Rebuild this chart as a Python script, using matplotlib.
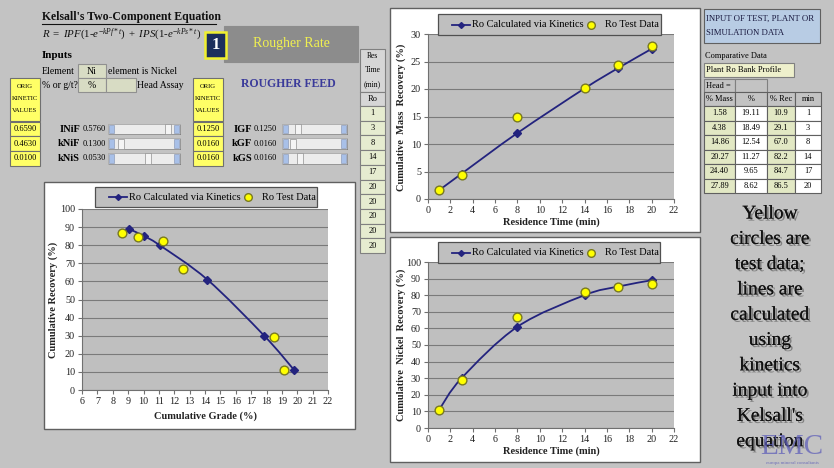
"""
Kelsall two-component flotation kinetics dashboard (rougher rate sheet).
Three charts plus the spreadsheet cells around them.
"""
import matplotlib
matplotlib.use('Agg')
import matplotlib.pyplot as plt
from matplotlib.patches import Rectangle, PathPatch
from matplotlib.path import Path
import matplotlib.patheffects as pe
import numpy as np

W, H = 834, 468

# test data (plant Ro bank profile)
time_min = [1, 3, 8, 14, 17, 20]
test_mass = [1.58, 4.38, 14.86, 20.27, 24.40, 27.89]
test_grade = [19.11, 18.49, 12.54, 11.27, 9.65, 8.62]
test_rec = [10.9, 29.1, 67.0, 82.2, 84.7, 86.5]

# values calculated via kinetics
calc_mass = [1.6, 4.6, 12.0, 20.1, 23.8, 27.3]
calc_grade = [19.8, 17.85, 14.15, 11.05, 10.0, 9.05]
calc_rec = [11.0, 30.0, 61.0, 80.0, 85.2, 89.0]

res_time = [1, 3, 8, 14, 17, 20, 20, 20, 20, 20]

orig_ni = ['0.6590', '0.4630', '0.0100']
orig_g = ['0.1250', '0.0160', '0.0160']
ni_names = ['INiF', 'kNiF', 'kNiS']
ni_vals = ['0.5760', '0.1300', '0.0530']
g_names = ['IGF', 'kGF', 'kGS']
g_vals = ['0.1250', '0.0160', '0.0160']

BG = '#c3c3c3'
PLOT = '#bfbfbf'
NAVY = '#23237e'
SERIF = 'Liberation Serif'

plt.rcParams['font.family'] = SERIF
plt.rcParams['mathtext.fontset'] = 'custom'
plt.rcParams['mathtext.rm'] = SERIF
plt.rcParams['mathtext.it'] = SERIF + ':italic'

fig = plt.figure(figsize=(W / 100, H / 100), dpi=100)
fig.patch.set_facecolor(BG)


def fx(x):
    return x / W


def fy(y):
    return 1 - y / H


def rect(x0, y0, x1, y1, fc='white', ec='#707070', lw=0.8, z=1):
    r = Rectangle((fx(x0), fy(y1)), fx(x1) - fx(x0), fy(y0) - fy(y1),
                  transform=fig.transFigure, facecolor=fc, edgecolor=ec,
                  linewidth=lw, zorder=z)
    fig.patches.append(r)
    return r


def txt(x, y, s, **kw):
    kw.setdefault('fontsize', 7)
    kw.setdefault('va', 'center')
    kw.setdefault('ha', 'left')
    kw.setdefault('zorder', 5)
    return fig.text(fx(x), fy(y), s, **kw)


def smooth_line(ax, xs, ys, **kw):
    # Excel style smoothed line: bezier through the points
    xr = np.diff(ax.get_xlim())[0]
    yr = np.diff(ax.get_ylim())[0]
    p = np.column_stack([np.asarray(xs) / xr, np.asarray(ys) / yr])
    verts = [p[0]]
    codes = [Path.MOVETO]
    n = len(p)
    for i in range(n - 1):
        p0 = p[max(i - 1, 0)]
        p3 = p[min(i + 2, n - 1)]
        c1 = p[i] + (p[i + 1] - p0) / 6
        c2 = p[i + 1] - (p3 - p[i]) / 6
        verts += [c1, c2, p[i + 1]]
        codes += [Path.CURVE4] * 3
    verts = np.array(verts) * [xr, yr]
    ax.add_patch(PathPatch(Path(verts, codes), fill=False, **kw))


def chart(frame, box, legend_box, xs_calc, ys_calc, xs_test, ys_test,
          xlim, xticks, ylim, yticks, xlabel, ylabel, xlab_pos, ylab_pos):
    rect(*frame, fc='white', ec='#606060', lw=1.0, z=-2)
    x0, y0, x1, y1 = box
    ax = fig.add_axes([fx(x0), fy(y1), fx(x1) - fx(x0), fy(y0) - fy(y1)])
    ax.set_zorder(1)
    ax.set_facecolor(PLOT)
    ax.set_xlim(*xlim)
    ax.set_ylim(*ylim)
    ax.set_xticks(xticks)
    ax.set_yticks(yticks)
    ax.yaxis.grid(True, color='#7a7a7a', lw=0.8)
    ax.set_axisbelow(True)
    for s in ['top', 'right']:
        ax.spines[s].set_visible(False)
    for s in ['left', 'bottom']:
        ax.spines[s].set_color('#707070')
    ax.tick_params(labelsize=7.3, length=3, width=0.8, color='#707070',
                   labelcolor='#222222', pad=2)
    smooth_line(ax, xs_calc, ys_calc, color=NAVY, lw=1.3, zorder=3)
    ax.plot(xs_calc, ys_calc, ls='none', marker='D', ms=4.5, color=NAVY,
            zorder=4)
    ax.plot(xs_test, ys_test, ls='none', marker='o', ms=6.3, mfc='#ffff00',
            mec='#7a7a20', mew=1.0, zorder=5)
    # legend box
    lx0, ly0, lx1, ly1 = legend_box
    rect(lx0, ly0, lx1, ly1, fc=PLOT, ec='#505050', lw=0.9, z=2)
    ym = (ly0 + ly1) / 2
    fig.lines.append(plt.Line2D([fx(lx0 + 14), fx(lx0 + 32)], [fy(ym)] * 2,
                                transform=fig.transFigure, color=NAVY,
                                lw=1.3, zorder=3))
    fig.lines.append(plt.Line2D([fx(lx0 + 23)], [fy(ym)], marker='D', ms=3,
                                transform=fig.transFigure, color=NAVY,
                                zorder=3))
    txt(lx0 + 34, ym, 'Ro Calculated via Kinetics', fontsize=7.5)
    fig.lines.append(plt.Line2D([fx(lx0 + 153)], [fy(ym)], marker='o', ms=5.5,
                                mfc='#ffff00', mec='#7a7a20',
                                transform=fig.transFigure, zorder=3))
    txt(lx0 + 167, ym, 'Ro Test Data', fontsize=7.5)
    txt(xlab_pos[0], xlab_pos[1], xlabel, ha='center', fontsize=7.5,
        fontweight='bold', color='#222222')
    txt(ylab_pos[0], ylab_pos[1], ylabel, ha='center', fontsize=7.5,
        fontweight='bold', rotation=90, color='#222222')
    return ax


# chart 1: grade / recovery
chart((44, 182, 355, 429), (82, 209, 328, 390), (95, 187, 317, 207),
      calc_grade, calc_rec, test_grade, test_rec,
      (6, 22), range(6, 23), (0, 100), range(0, 101, 10),
      'Cumulative Grade (%)', 'Cumulative Recovery (%)',
      (205, 416), (53, 300))

# chart 2: mass recovery vs time
chart((390, 8, 700, 232), (428, 34, 674, 199), (438, 14, 661, 35),
      time_min, calc_mass, time_min, test_mass,
      (0, 22), range(0, 23, 2), (0, 30), range(0, 31, 5),
      'Residence Time (min)', 'Cumulative  Mass  Recovery (%)',
      (551, 222), (401, 117))

# chart 3: nickel recovery vs time
chart((390, 237, 700, 462), (428, 262, 674, 428), (438, 242, 660, 263),
      time_min, calc_rec, time_min, test_rec,
      (0, 22), range(0, 23, 2), (0, 100), range(0, 101, 10),
      'Residence Time (min)', 'Cumulative  Nickel  Recovery (%)',
      (551, 451), (401, 345))

# ---- header / inputs ----
txt(42, 17, "Kelsall's Two-Component Equation", fontsize=8.5,
    fontweight='bold', color='#111111')
fig.lines.append(plt.Line2D([fx(42), fx(216)], [fy(24)] * 2,
                            transform=fig.transFigure, color='#111111', lw=0.8))
txt(42, 34, r'$R\ =\ IPF(1$-$e^{-kPf*t})\ +\ IPS(1$-$e^{-kPs*t})$',
    fontsize=7.8, color='#111111')
rect(224, 26, 358, 62, fc='#8c8c8c', ec='#8c8c8c', z=1)
txt(291, 44, 'Rougher Rate', ha='center', fontsize=10, color='#f0f050')
rect(205, 32, 226, 58, fc='#1c2f5c', ec='#f0f030', lw=1.8, z=2)
txt(215.5, 45, '1', ha='center', fontsize=12, fontweight='bold',
    color='white')

txt(42, 56, 'Inputs', fontsize=8, fontweight='bold')
txt(42, 71, 'Element', fontsize=7)
rect(78, 64, 106, 78, fc='#d8dcc4', ec='#909090')
txt(92, 71, 'Ni', ha='center', fontsize=7)
txt(108, 71, 'element is Nickel', fontsize=7)
txt(42, 85, '% or g/t?', fontsize=7)
rect(78, 78, 106, 92, fc='#d8dcc4', ec='#909090')
rect(106, 78, 136, 92, fc='#d8dcc4', ec='#909090')
txt(92, 85, '%', ha='center', fontsize=7)
txt(137, 85, 'Head Assay', fontsize=7)
txt(288, 84, 'ROUGHER FEED', ha='center', fontsize=8.5, fontweight='bold',
    color='#3a3a9a')

row_y = [(122, 136), (136, 151), (151, 166)]
thumb_ni = [165, 118, 145]
thumb_g = [295, 290, 297]
for bx, vals in [(10, orig_ni), (193, orig_g)]:
    rect(bx, 78, bx + 30, 121, fc='#ffff66', ec='#707070')
    for k, line in enumerate(['ORIG', 'KINETIC', 'VALUES']):
        txt(bx + 15, 87 + k * 12, line, ha='center', fontsize=4.8)
    for (ya, yb), v in zip(row_y, vals):
        rect(bx, ya, bx + 30, yb, fc='#ffff66', ec='#707070')
        txt(bx + 15, (ya + yb) / 2, v, ha='center', fontsize=6)

for (ya, yb), name, val, th in zip(row_y, ni_names, ni_vals, thumb_ni):
    ym = (ya + yb) / 2
    txt(80, ym, name, ha='right', fontsize=7.5, fontweight='bold')
    txt(83, ym, val, fontsize=6)
    rect(109, ya + 3, 181, yb - 1, fc='#1a1a1a', ec='none')
    rect(108, ya + 2, 180, yb - 2, fc='#ececec', ec='#a0a0a0', lw=0.5)
    rect(109, ya + 3, 114, yb - 3, fc='#a8c0e8', ec='#8090b0', lw=0.4)
    rect(174, ya + 3, 179, yb - 3, fc='#a8c0e8', ec='#8090b0', lw=0.4)
    rect(th, ya + 2.5, th + 6, yb - 2.5, fc='#f4f4f4', ec='#909090', lw=0.5)

for (ya, yb), name, val, th in zip(row_y, g_names, g_vals, thumb_g):
    ym = (ya + yb) / 2
    txt(252, ym, name, ha='right', fontsize=7.5, fontweight='bold')
    txt(254, ym, val, fontsize=6)
    rect(283, ya + 3, 348, yb - 1, fc='#1a1a1a', ec='none')
    rect(282, ya + 2, 347, yb - 2, fc='#ececec', ec='#a0a0a0', lw=0.5)
    rect(283, ya + 3, 288, yb - 3, fc='#a8c0e8', ec='#8090b0', lw=0.4)
    rect(341, ya + 3, 346, yb - 3, fc='#a8c0e8', ec='#8090b0', lw=0.4)
    rect(th, ya + 2.5, th + 6, yb - 2.5, fc='#f4f4f4', ec='#909090', lw=0.5)

# residence time column
rect(360, 49, 385, 92, fc='#d6d6d6', ec='#808080')
for k, line in enumerate(['Res', 'Time', '(min)']):
    txt(372.5, 56 + k * 14, line, ha='center', fontsize=5.5)
rect(360, 92, 385, 106, fc='#d6d6d6', ec='#808080')
txt(372.5, 99, 'Ro', ha='center', fontsize=6)
cell_h = 14.7
for i, v in enumerate(res_time):
    ya = 106 + i * cell_h
    rect(360, ya, 385, ya + cell_h, fc='#e6ecd0', ec='#808080')
    txt(372.5, ya + cell_h / 2, str(v), ha='center', fontsize=6)

# ---- right panel ----
rect(704, 9, 820, 43, fc='#b8cce4', ec='#606060')
txt(706, 19, 'INPUT OF TEST, PLANT OR', fontsize=6.3, color='#1a1a40')
txt(706, 33, 'SIMULATION DATA', fontsize=6.3, color='#1a1a40')
txt(705, 56, 'Comparative Data', fontsize=6)
rect(704, 63, 794, 77, fc='#eef0cc', ec='#808080')
txt(706, 70, 'Plant Ro Bank Profile', fontsize=6)
rect(704, 79, 735, 92, fc=BG, ec='#808080')
rect(735, 79, 767, 92, fc=BG, ec='#808080')
txt(706, 85.5, 'Head =', fontsize=6)

cols = [(704, 735, '% Mass'), (735, 767, '%'), (767, 795, '% Rec'),
        (795, 821, 'min')]
for xa, xb, lab in cols:
    rect(xa, 92, xb, 106, fc=BG, ec='#606060')
    txt((xa + xb) / 2, 99, lab, ha='center', fontsize=6)
row_h = 14.5
for i in range(len(time_min)):
    ya = 106 + i * row_h
    vals = [f'{test_mass[i]:.2f}', f'{test_grade[i]:.2f}',
            f'{test_rec[i]:.1f}', str(time_min[i])]
    for (xa, xb, _), v, fc in zip(cols, vals,
                                  ['#e2e8c4', 'white', '#e2e8c4', 'white']):
        rect(xa, ya, xb, ya + row_h, fc=fc, ec='#606060')
        txt((xa + xb) / 2, ya + row_h / 2, v, ha='center', fontsize=6)

note = ['Yellow', 'circles are', 'test data;', 'lines are', 'calculated',
        'using', 'kinetics', 'input into', "Kelsall's", 'equation']
for k, line in enumerate(note):
    txt(770, 214 + k * 25.3, line, ha='center', fontsize=14, color='#111111',
        path_effects=[pe.withSimplePatchShadow(offset=(1.5, -1.5),
                                               shadow_rgbFace='#555555',
                                               alpha=0.6), pe.Normal()])
txt(792, 447, 'EMC', ha='center', fontsize=21, color='#5a5ab8', alpha=0.7,
    zorder=6)
txt(792, 463, 'europa mineral consultants', ha='center', fontsize=3.5,
    color='#5a5ab8', alpha=0.8)

plt.savefig('out.png', dpi=100, facecolor=BG)
plt.close()
